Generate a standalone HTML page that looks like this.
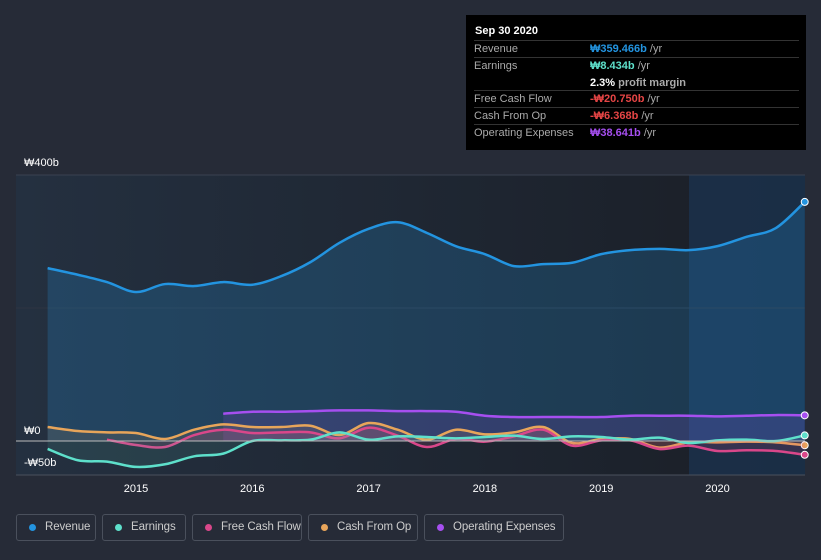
<!DOCTYPE html>
<html><head><meta charset="utf-8"><style>
html,body{margin:0;background:#262b37;width:821px;height:560px;overflow:hidden;font-family:"Liberation Sans","Noto Sans CJK KR",sans-serif;}
svg{position:absolute;left:0;top:0}
.tip{position:absolute;left:466px;top:15px;width:340px;height:135px;background:#000;color:#ccc;font-size:11px;}
.tip .h{color:#fff;font-weight:bold;font-size:11px;position:absolute;left:9px;top:10px}
.row{position:absolute;left:8px;width:325px;height:17px;border-top:1px solid #333;}
.row span{position:absolute;top:2px;white-space:nowrap}
.row .l{left:0;color:#aaa}.row .v{left:116px;font-weight:bold}
.leg{position:absolute;top:514px;height:27px;border:1px solid #4a505c;border-radius:3px;color:#ccc;font-size:11.5px;letter-spacing:-0.1px;line-height:25px;box-sizing:border-box;padding-left:28px;white-space:nowrap;overflow:hidden}
.leg i{position:absolute;left:12px;top:9px;width:7px;height:7px;border-radius:50%}
</style></head><body>
<svg width="821" height="560" id="chart">
<defs><linearGradient id="bg" x1="0" y1="0" x2="1" y2="0"><stop offset="0" stop-color="#243040"/><stop offset="1" stop-color="#1a1e26"/></linearGradient></defs>
<rect x="16" y="175" width="789" height="300" fill="url(#bg)"/>
<rect x="689" y="175" width="116" height="300" fill="#1b3552" opacity="0.7"/>
<line x1="16" x2="805" y1="175" y2="175" stroke="#3a4250"/>
<line x1="16" x2="805" y1="308" y2="308" stroke="#2e3542"/>
<line x1="16" x2="805" y1="475" y2="475" stroke="#4a505c"/>
<g id="series"></g>
<line x1="16" x2="805" y1="441" y2="441" stroke="#bbb" stroke-width="1"/>
<text x="24" y="166" fill="#fff" font-size="11">₩400b</text>
<text x="24" y="434" fill="#fff" font-size="11">₩0</text>
<text x="24" y="466" fill="#fff" font-size="11">-₩50b</text>
<g id="xt"></g>
</svg>
<div class="tip">
<div class="h">Sep 30 2020</div>
<div class="row" style="top:25px"><span class="l">Revenue</span><span class="v" style="color:#2394e0">₩359.466b <span style="color:#aaa;position:static;font-weight:normal">/yr</span></span></div>
<div class="row" style="top:42px;height:34px"><span class="l">Earnings</span><span class="v" style="color:#5ee0cb">₩8.434b <span style="color:#aaa;position:static;font-weight:normal">/yr</span></span><span class="v" style="top:19px;color:#fff">2.3% <span style="color:#aaa;position:static">profit margin</span></span></div>
<div class="row" style="top:75px"><span class="l">Free Cash Flow</span><span class="v" style="color:#e64545">-₩20.750b <span style="color:#aaa;position:static;font-weight:normal">/yr</span></span></div>
<div class="row" style="top:92px"><span class="l">Cash From Op</span><span class="v" style="color:#e64545">-₩6.368b <span style="color:#aaa;position:static;font-weight:normal">/yr</span></span></div>
<div class="row" style="top:109px"><span class="l">Operating Expenses</span><span class="v" style="color:#a64ff0">₩38.641b <span style="color:#aaa;position:static;font-weight:normal">/yr</span></span></div>
</div>
<div class="leg" style="left:16px;width:80px"><i style="background:#2394e0"></i>Revenue</div>
<div class="leg" style="left:102px;width:84px"><i style="background:#5ee0cb"></i>Earnings</div>
<div class="leg" style="left:192px;width:110px"><i style="background:#d9478a"></i>Free Cash Flow</div>
<div class="leg" style="left:308px;width:110px"><i style="background:#e8a55a"></i>Cash From Op</div>
<div class="leg" style="left:424px;width:140px"><i style="background:#a64ff0"></i>Operating Expenses</div>
<script>
const revenueT=[2014.24,2014.5,2014.75,2015,2015.25,2015.5,2015.75,2016,2016.25,2016.5,2016.75,2017,2017.25,2017.5,2017.75,2018,2018.25,2018.5,2018.75,2019,2019.25,2019.5,2019.75,2020,2020.25,2020.5,2020.75];
const revenue=[260,250,239,224,236,233,239,235,248,269,298,319,329,313,293,281,263,266,268,281,287,289,287,293,307,320,359.5];
const earnings=[-12,-29,-31,-39,-35,-23,-19,0,1,2,13,2,7,6,4,6,8,3,7,6,2,5,-3,1,2,0,8.4];
const fcfT=[2014.75,2015,2015.25,2015.5,2015.75,2016,2016.25,2016.5,2016.75,2017,2017.25,2017.5,2017.75,2018,2018.25,2018.5,2018.75,2019,2019.25,2019.5,2019.75,2020,2020.25,2020.5,2020.75];
const fcf=[2,-6,-9,9,17,12,13,13,4,20,8,-9,3,-1,7,17,-7,1,1,-12,-7,-15,-14,-15,-20.75];
const cfo=[21,15,13,12,3,17,25,21,21,23,9,27,17,2,17,10,13,21,-3,3,3,-10,-2,-2,-1,-2,-6.4];
const opexT=[2015.75,2016,2016.25,2016.5,2016.75,2017,2017.25,2017.5,2017.75,2018,2018.25,2018.5,2018.75,2019,2019.25,2019.5,2019.75,2020,2020.25,2020.5,2020.75];
const opex=[41,44,44,45,46,46,45,45,44,38,36,36,36,36,38,38,38,37,38,39,38.6];
const xTicks=[2015,2016,2017,2018,2019,2020];
const X=t=>136+(t-2015)*116.3, Y=v=>441-v*0.665;
function path(ts,vs){const p=ts.map((t,i)=>[X(t),Y(vs[i])]);let d=`M${p[0][0]},${p[0][1]}`;
for(let i=0;i<p.length-1;i++){const a=p[i-1]||p[i],b=p[i],c=p[i+1],e=p[i+2]||c;
d+=` C${b[0]+(c[0]-a[0])/6},${b[1]+(c[1]-a[1])/6} ${c[0]-(e[0]-b[0])/6},${c[1]-(e[1]-b[1])/6} ${c[0]},${c[1]}`;}return d;}
const g=document.getElementById('series'),NS='http://www.w3.org/2000/svg';
function add(name,ts,vs,col,op){
const d=path(ts,vs);
const a=document.createElementNS(NS,'path');a.setAttribute('d',d+` L${X(ts[ts.length-1])},441 L${X(ts[0])},441 Z`);a.setAttribute('fill',col);a.setAttribute('opacity',op);


g.appendChild(a);
const l=document.createElementNS(NS,'path');l.setAttribute('d',d);l.setAttribute('fill','none');l.setAttribute('stroke',col);l.setAttribute('stroke-width','2.5');


g.appendChild(l);
const c=document.createElementNS(NS,'circle');c.setAttribute('cx',X(ts[ts.length-1]));c.setAttribute('cy',Y(vs[vs.length-1]));c.setAttribute('r','3.5');c.setAttribute('fill',col);c.setAttribute('stroke','#fff');c.setAttribute('stroke-width','1');


g.appendChild(c);}
add('revenue',revenueT,revenue,'#2394e0',0.22);
add('opex',opexT,opex,'#a64ff0',0.15);
add('cash-from-op',revenueT,cfo,'#e8a55a',0.12);
add('free-cash-flow',fcfT,fcf,'#d9478a',0.15);
add('earnings',revenueT,earnings,'#5ee0cb',0.1);
const xt=document.getElementById('xt');
xTicks.forEach(t=>{const e=document.createElementNS(NS,'text');e.setAttribute('x',X(t));e.setAttribute('y',492);e.setAttribute('fill','#fff');e.setAttribute('font-size','11');e.setAttribute('text-anchor','middle');e.textContent=t;


xt.appendChild(e);});
</script>
</body></html>
